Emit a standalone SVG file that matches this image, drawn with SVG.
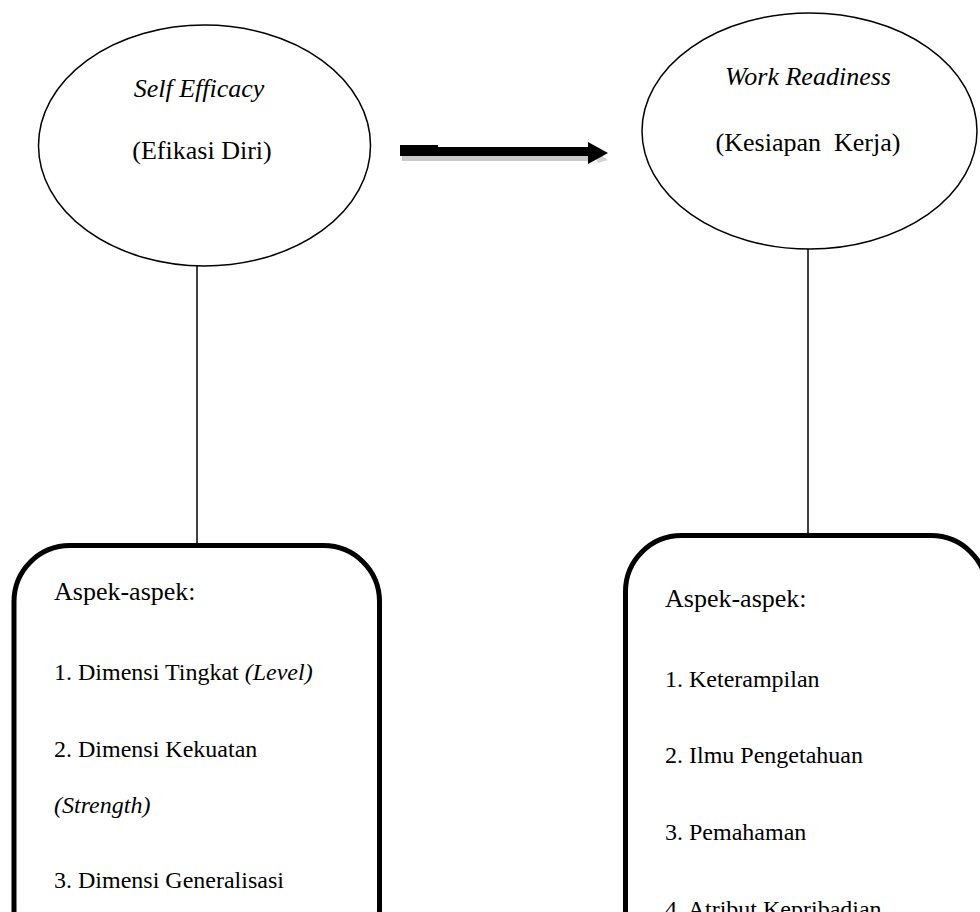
<svg xmlns="http://www.w3.org/2000/svg" width="980" height="912" viewBox="0 0 980 912">
<style>
.t{font-family:"Liberation Serif","Times New Roman",serif;font-size:24px;fill:#000}
.h{font-size:26px}
.i{font-style:italic}
.ell{fill:#fff;stroke:#000;stroke-width:1.5}
.box{fill:#fff;stroke:#000;stroke-width:5}
.ln{stroke:#000;stroke-width:1.5;fill:none}
</style>
<rect width="980" height="912" fill="#fff"/>
<g id="connectors">
<line class="ln" x1="197" y1="266" x2="197" y2="545"/>
<line class="ln" x1="808" y1="249" x2="808" y2="535"/>
<g id="arrow">
<rect x="402" y="155" width="190" height="6" fill="#bdbdbd" opacity="0.8"/>
<rect x="400" y="145" width="38" height="8" fill="#000"/>
<rect x="400" y="147" width="192" height="9" fill="#000"/>
<polygon points="590,147 598,163 608,160" fill="#c8c8c8" opacity="0.8"/>
<polygon points="588,142 608,153 588,164" fill="#000"/>
</g>
</g>
<g id="node-self-efficacy">
<ellipse class="ell" cx="204.5" cy="145.5" rx="166" ry="120.5"/>
<text class="t h i" x="199" y="97" text-anchor="middle">Self Efficacy</text>
<text class="t h" x="202" y="159" text-anchor="middle">(Efikasi Diri)</text>
</g>
<g id="node-work-readiness">
<ellipse class="ell" cx="809.5" cy="131" rx="167.5" ry="118"/>
<text class="t h i" x="808" y="85" text-anchor="middle">Work Readiness</text>
<text class="t h" x="808" y="151" text-anchor="middle" xml:space="preserve">(Kesiapan  Kerja)</text>
</g>
<g id="node-aspek-self-efficacy">
<rect class="box" x="14" y="545.5" width="365.5" height="420" rx="56" ry="56"/>
<text class="t h" x="54" y="600">Aspek-aspek:</text>
<text class="t" x="54" y="680">1. Dimensi Tingkat <tspan class="i">(Level)</tspan></text>
<text class="t" x="54" y="757">2. Dimensi Kekuatan</text>
<text class="t i" x="54" y="813">(Strength)</text>
<text class="t" x="54" y="888">3. Dimensi Generalisasi</text>
</g>
<g id="node-aspek-work-readiness">
<rect class="box" x="625.5" y="535.5" width="361.5" height="430" rx="56" ry="56"/>
<text class="t h" x="665" y="607">Aspek-aspek:</text>
<text class="t" x="665" y="687">1. Keterampilan</text>
<text class="t" x="665" y="763">2. Ilmu Pengetahuan</text>
<text class="t" x="665" y="840">3. Pemahaman</text>
<text class="t" x="665" y="917">4. Atribut Kepribadian</text>
</g>
</svg>
